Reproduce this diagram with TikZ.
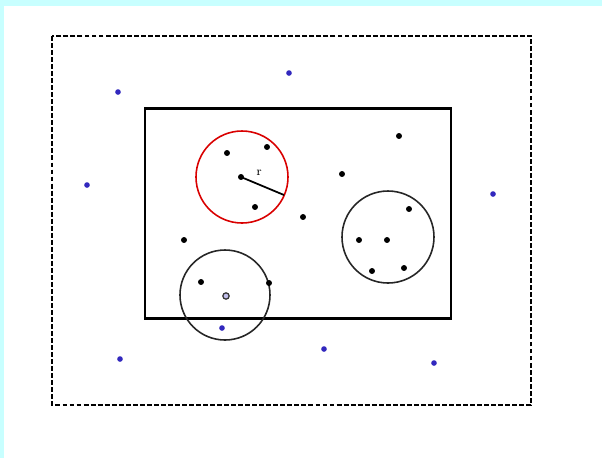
\documentclass[tikz,border=0pt]{standalone}
\definecolor{BgCyan}{RGB}{200,255,255}
\definecolor{PtBlue}{RGB}{50,40,190}
\usepackage{tikz}
\usetikzlibrary{positioning}

\begin{document}
\begin{tikzpicture}[x=0.02cm, y=-0.02cm,
    dot/.style={circle, fill=black, inner sep=0pt, minimum size=3.4pt},
    bdot/.style={circle, fill=PtBlue, inner sep=0pt, minimum size=3.2pt},
    ring/.style={draw=black!85, line width=0.9pt}]
  % Background and frame
  \fill[BgCyan] (0,0) rectangle (602,458);
  \fill[white] (4,6) rectangle (602,458);
  \useasboundingbox (0,0) rectangle (602,458);
  \draw[line width=1.1pt, dash pattern=on 2.8pt off 1.2pt] (52,36) rectangle (531,405);
  \draw[line width=1.7pt] (145,108) rectangle (451,318);
  % Circles
  \draw[red!85!black, line width=0.9pt] (242,177) circle (46);
  \draw[ring] (388,237) circle (46);
  \draw[ring] (225,295) circle (45);
  % Points inside the red circle
  \node[dot] (c) at (241,177) {};
  \node[dot] (p1) at (227,153) {};
  \node[dot] (p2) at (267,147) {};
  \node[dot] (p3) at (255,207) {};
  \coordinate (rim) at (284,195);
  \draw[line width=1pt] (c.center) -- (rim);
  \node[font=\scriptsize, inner sep=0pt] (r) at (259,173) {r};
  % Other black points
  \node[dot] (p4) at (303,217) {};
  \node[dot] (p5) at (342,174) {};
  \node[dot] (p6) at (399,136) {};
  \node[dot] (p7) at (359,240) {};
  \node[dot] (p8) at (387,240) {};
  \node[dot] (p9) at (409,209) {};
  \node[dot] (p10) at (372,271) {};
  \node[dot] (p11) at (404,268) {};
  \node[dot] (p12) at (184,240) {};
  \node[dot] (p13) at (201,282) {};
  \node[dot] (p14) at (269,283) {};
  \node[circle, draw=black!80, fill=PtBlue!30, line width=0.7pt,
        inner sep=0pt, minimum size=3.6pt] (q) at (226,296) {};
  % Blue points
  \node[bdot] (b1) at (118,92) {};
  \node[bdot] (b2) at (289,73) {};
  \node[bdot] (b3) at (87,185) {};
  \node[bdot] (b4) at (493,194) {};
  \node[bdot] (b5) at (120,359) {};
  \node[bdot] (b6) at (324,349) {};
  \node[bdot] (b7) at (434,363) {};
  \node[bdot] (b8) at (222,328) {};
\end{tikzpicture}
\end{document}
